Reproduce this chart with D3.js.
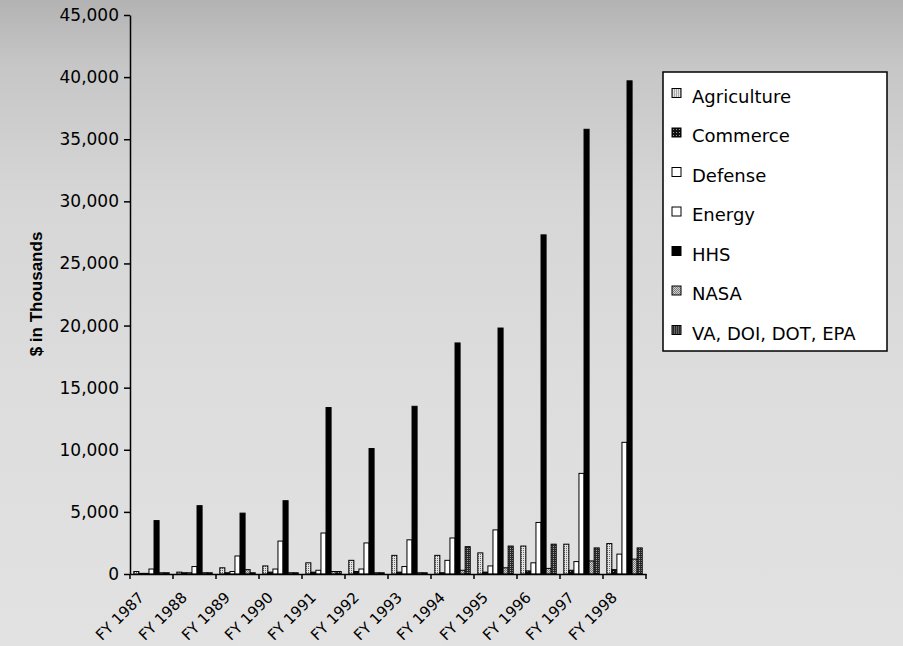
<!DOCTYPE html>
<html>
<head>
<meta charset="utf-8">
<script src="https://cdn.jsdelivr.net/npm/d3@7"></script>
<style>
  body { margin: 0; background: #ffffff; }
  svg { display: block; }
</style>
</head>
<body>
<svg id="chart" width="903" height="646"></svg>
<script>
// Fiscal years on the category axis
const years = ["FY 1987", "FY 1988", "FY 1989", "FY 1990", "FY 1991", "FY 1992",
               "FY 1993", "FY 1994", "FY 1995", "FY 1996", "FY 1997", "FY 1998"];

// Agencies, in legend / cluster order
const agencies = ["Agriculture", "Commerce", "Defense", "Energy", "HHS", "NASA", "VA, DOI, DOT, EPA"];

// Funding by agency, $ in thousands
const agriculture = [200, 150, 500, 650, 900, 1100, 1500, 1500, 1700, 2250, 2400, 2450];
const commerce    = [50, 100, 100, 150, 150, 200, 150, 100, 150, 250, 300, 350];
const defense     = [50, 100, 200, 400, 300, 400, 600, 1100, 650, 900, 1000, 1600];
const energy      = [400, 600, 1450, 2650, 3300, 2500, 2750, 2900, 3550, 4150, 8100, 10600];
const hhs         = [4300, 5500, 4900, 5900, 13400, 10100, 13500, 18600, 19800, 27300, 35800, 39700];
const nasa        = [100, 100, 350, 100, 200, 100, 100, 300, 500, 450, 1050, 1200];
const vaDoiDotEpa = [100, 100, 100, 100, 200, 100, 100, 2200, 2250, 2400, 2100, 2100];

// Value-axis ticks
const yTicks = [0, 5000, 10000, 15000, 20000, 25000, 30000, 35000, 40000, 45000];

const seriesValues = [agriculture, commerce, defense, energy, hhs, nasa, vaDoiDotEpa];

const svg = d3.select("#chart");
const W = 903, H = 646;
const plot = { left: 130, right: 646, top: 15, bottom: 574 };

// ---- fills -------------------------------------------------------------
const defs = svg.append("defs");

const bgGrad = defs.append("linearGradient")
  .attr("id", "bgGrad").attr("x1", 0).attr("y1", 0).attr("x2", 0).attr("y2", 1);
[[0, "#b3b3b3"], [0.1, "#c6c6c6"], [0.3, "#d6d6d6"], [0.6, "#dddddd"], [1, "#e2e2e2"]]
  .forEach(([o, c]) => bgGrad.append("stop").attr("offset", o).attr("stop-color", c));

function checker(id, size, bg, fg, cells) {
  const p = defs.append("pattern")
    .attr("id", id).attr("width", size).attr("height", size)
    .attr("patternUnits", "userSpaceOnUse");
  p.append("rect").attr("width", size).attr("height", size).attr("fill", bg);
  cells.forEach(([cx, cy]) =>
    p.append("rect").attr("x", cx).attr("y", cy).attr("width", 1).attr("height", 1).attr("fill", fg));
}
checker("patAgri", 2, "#e4e4e4", "#6a6a6a", [[0, 0]]);
checker("patComm", 3, "#111111", "#9a9a9a", [[1, 1]]);
checker("patNasa", 2, "#d0d0d0", "#7a7a7a", [[0, 0], [1, 1]]);
checker("patVa", 2, "#2a2a2a", "#a0a0a0", [[0, 0]]);

const fills = {
  "Agriculture": "url(#patAgri)",
  "Commerce": "url(#patComm)",
  "Defense": "#ffffff",
  "Energy": "#ffffff",
  "HHS": "#000000",
  "NASA": "url(#patNasa)",
  "VA, DOI, DOT, EPA": "url(#patVa)"
};

// ---- background --------------------------------------------------------
svg.append("rect").attr("width", W).attr("height", H).attr("fill", "url(#bgGrad)");

// ---- scales ------------------------------------------------------------
const x0 = d3.scaleBand().domain(years).range([plot.left, plot.right]).paddingInner(0).paddingOuter(0);
const x1 = d3.scaleBand().domain(agencies).range([0, x0.bandwidth()]).paddingInner(0).paddingOuter(0.75);
const y = d3.scaleLinear().domain([0, 45000]).range([plot.bottom, plot.top]);

const rows = years.map((yr, i) => ({
  year: yr,
  values: agencies.map((a, j) => ({ agency: a, value: seriesValues[j][i] }))
}));

// ---- bars --------------------------------------------------------------
const groups = svg.append("g").attr("class", "bars")
  .selectAll("g").data(rows).join("g")
  .attr("transform", d => `translate(${x0(d.year)},0)`);

groups.selectAll("rect").data(d => d.values).join("rect")
  .attr("x", d => x1(d.agency))
  .attr("y", d => y(d.value))
  .attr("width", x1.bandwidth())
  .attr("height", d => y(0) - y(d.value))
  .attr("fill", d => fills[d.agency])
  .attr("stroke", "#000")
  .attr("stroke-width", 1);

// ---- value axis --------------------------------------------------------
const yAxis = svg.append("g")
  .attr("transform", `translate(${plot.left},0)`)
  .call(d3.axisLeft(y).tickValues(yTicks).tickFormat(d3.format(","))
    .tickSize(6).tickSizeOuter(0).tickPadding(5));
yAxis.select(".domain").attr("stroke", "#000").attr("stroke-width", 1.5);
yAxis.selectAll(".tick line").attr("stroke", "#000").attr("stroke-width", 1.5);
yAxis.selectAll(".tick text")
  .attr("font-family", "DejaVu Sans, sans-serif")
  .attr("font-size", 17)
  .attr("fill", "#000");

// ---- category axis -----------------------------------------------------
const xAxis = svg.append("g")
  .attr("transform", `translate(0,${plot.bottom})`)
  .call(d3.axisBottom(x0).tickSize(0).tickSizeOuter(0).tickFormat(""));
xAxis.select(".domain").attr("stroke", "#000").attr("stroke-width", 1.5);

// tick marks sit on the boundaries between year clusters
const edges = years.map(yr => x0(yr)).concat([x0.range()[1]]);
xAxis.selectAll(".edge").data(edges).join("line")
  .attr("class", "edge")
  .attr("x1", d => d).attr("x2", d => d)
  .attr("y1", 0).attr("y2", 5)
  .attr("stroke", "#000").attr("stroke-width", 1.5);

xAxis.selectAll(".year-label").data(years).join("text")
  .attr("class", "year-label")
  .attr("transform", d => `translate(${x0(d) + x0.bandwidth() / 2 - 14},17) rotate(-45)`)
  .attr("text-anchor", "end")
  .attr("dy", "0.7em")
  .attr("font-family", "DejaVu Sans, sans-serif")
  .attr("font-size", 15)
  .attr("fill", "#000")
  .text(d => d);

// ---- axis title --------------------------------------------------------
svg.append("text")
  .attr("transform", "translate(42,294) rotate(-90)")
  .attr("text-anchor", "middle")
  .attr("font-family", "Liberation Sans, Arial, sans-serif")
  .attr("font-weight", "bold")
  .attr("font-size", 17)
  .attr("fill", "#000")
  .text("$ in Thousands");

// ---- legend ------------------------------------------------------------
const legend = svg.append("g").attr("class", "legend");
legend.append("rect")
  .attr("x", 663).attr("y", 72).attr("width", 224).attr("height", 279)
  .attr("fill", "#ffffff").attr("stroke", "#000").attr("stroke-width", 1.5);

const items = legend.selectAll(".item").data(agencies).join("g")
  .attr("class", "item")
  .attr("transform", (d, i) => `translate(672,${88.5 + i * 39.5})`);
items.append("rect")
  .attr("width", 9).attr("height", 9)
  .attr("fill", d => fills[d])
  .attr("stroke", "#000").attr("stroke-width", 1);
items.append("text")
  .attr("x", 20).attr("y", 14)
  .attr("font-family", "DejaVu Sans, sans-serif")
  .attr("font-size", 18)
  .attr("fill", "#000")
  .text(d => d);
</script>
</body>
</html>
